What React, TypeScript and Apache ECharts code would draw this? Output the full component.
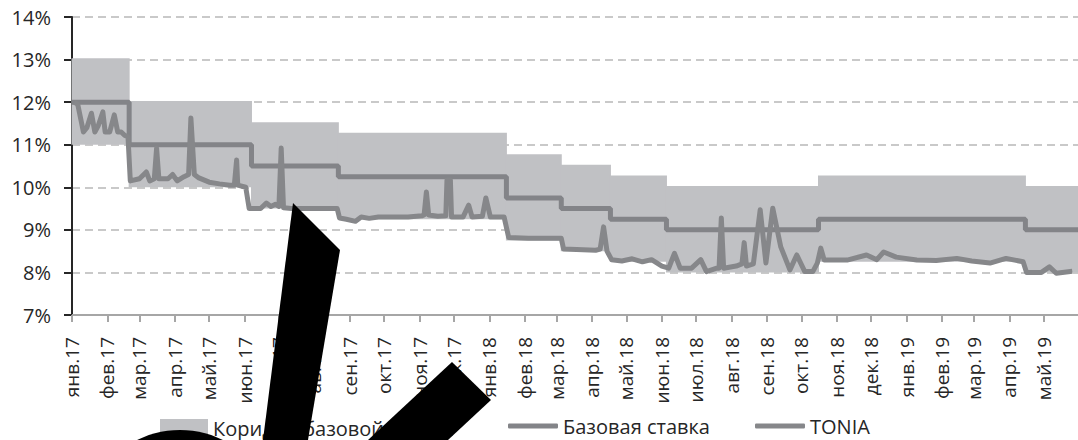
import React, { useEffect, useRef } from "react";
import * as echarts from "echarts";

const monthStarts = [
  "2017-01-01", "2017-02-01", "2017-03-01", "2017-04-01", "2017-05-01", "2017-06-01",
  "2017-07-01", "2017-08-01", "2017-09-01", "2017-10-01", "2017-11-01", "2017-12-01",
  "2018-01-01", "2018-02-01", "2018-03-01", "2018-04-01", "2018-05-01", "2018-06-01",
  "2018-07-01", "2018-08-01", "2018-09-01", "2018-10-01", "2018-11-01", "2018-12-01",
  "2019-01-01", "2019-02-01", "2019-03-01", "2019-04-01", "2019-05-01",
];
const monthLabels = [
  "янв.17", "фев.17", "мар.17", "апр.17", "май.17", "июн.17", "июл.17", "авг.17", "сен.17",
  "окт.17", "ноя.17", "дек.17", "янв.18", "фев.18", "мар.18", "апр.18", "май.18", "июн.18",
  "июл.18", "авг.18", "сен.18", "окт.18", "ноя.18", "дек.18", "янв.19", "фев.19", "мар.19",
  "апр.19", "май.19",
];
const yTicks = [7, 8, 9, 10, 11, 12, 13, 14];

const rateDates = [
  "2017-01-01", "2017-02-20", "2017-06-07", "2017-08-22", "2018-01-16", "2018-03-05",
  "2018-04-17", "2018-06-05", "2018-10-16", "2019-04-15", "2019-05-31",
];
const baseRate = [12, 11, 10.5, 10.25, 9.75, 9.5, 9.25, 9.0, 9.25, 9.0, 9.0];
const corridorLower = [11, 10, 9.5, 9.25, 8.75, 8.5, 8.25, 8.0, 8.25, 8.0, 8.0];
const corridorUpper = [13, 12, 11.5, 11.25, 10.75, 10.5, 10.25, 10.0, 10.25, 10.0, 10.0];

const toniaDates = [
  "2017-01-03", "2017-01-06", "2017-01-11", "2017-01-14", "2017-01-18", "2017-01-21",
  "2017-01-24", "2017-01-28", "2017-01-30", "2017-02-03", "2017-02-07", "2017-02-10",
  "2017-02-13", "2017-02-16", "2017-02-19", "2017-02-21", "2017-03-01", "2017-03-07",
  "2017-03-10", "2017-03-14", "2017-03-16", "2017-03-18", "2017-03-26", "2017-03-30",
  "2017-04-03", "2017-04-09", "2017-04-13", "2017-04-15", "2017-04-18", "2017-04-22",
  "2017-05-01", "2017-05-10", "2017-05-19", "2017-05-23", "2017-05-25", "2017-05-26",
  "2017-06-02", "2017-06-05", "2017-06-15", "2017-06-20", "2017-06-24", "2017-06-28",
  "2017-07-01", "2017-07-03", "2017-07-05", "2017-07-12", "2017-07-27", "2017-08-21",
  "2017-08-23", "2017-08-29", "2017-09-06", "2017-09-11", "2017-09-18", "2017-09-26",
  "2017-10-09", "2017-10-22", "2017-11-03", "2017-11-05", "2017-11-07", "2017-11-09",
  "2017-11-17", "2017-11-24", "2017-11-25", "2017-11-28", "2017-11-29", "2017-12-09",
  "2017-12-14", "2017-12-17", "2017-12-26", "2017-12-29", "2018-01-02", "2018-01-14",
  "2018-01-18", "2018-02-04", "2018-02-17", "2018-03-05", "2018-03-07", "2018-03-24",
  "2018-04-04", "2018-04-08", "2018-04-11", "2018-04-14", "2018-04-18", "2018-04-27",
  "2018-05-06", "2018-05-15", "2018-05-23", "2018-06-01", "2018-06-07", "2018-06-12",
  "2018-06-17", "2018-06-27", "2018-07-05", "2018-07-10", "2018-07-19", "2018-07-21",
  "2018-07-23", "2018-07-25", "2018-08-05", "2018-08-10", "2018-08-12", "2018-08-14",
  "2018-08-20", "2018-08-26", "2018-08-31", "2018-09-06", "2018-09-13", "2018-09-21",
  "2018-09-27", "2018-10-04", "2018-10-11", "2018-10-15", "2018-10-18", "2018-10-21",
  "2018-11-10", "2018-11-27", "2018-12-06", "2018-12-12", "2018-12-23", "2019-01-10",
  "2019-01-27", "2019-02-14", "2019-02-27", "2019-03-15", "2019-03-29", "2019-04-13",
  "2019-04-16", "2019-04-29", "2019-05-06", "2019-05-12", "2019-05-26",
];
const toniaValues = [
  12.0, 11.95, 11.3, 11.4, 11.74, 11.3,
  11.45, 11.77, 11.3, 11.3, 11.7, 11.3,
  11.3, 11.22, 11.18, 10.15, 10.2, 10.36,
  10.15, 10.2, 10.92, 10.2, 10.2, 10.3,
  10.15, 10.25, 10.3, 11.63, 10.3, 10.22,
  10.12, 10.08, 10.05, 10.05, 10.64, 10.05,
  10.0, 9.5, 9.5, 9.63, 9.55, 9.6,
  9.55, 10.92, 9.52, 9.5, 9.5, 9.5,
  9.28, 9.25, 9.2, 9.3, 9.27, 9.3,
  9.3, 9.3, 9.33, 9.35, 9.89, 9.35,
  9.32, 9.33, 10.17, 10.17, 9.3, 9.3,
  9.58, 9.3, 9.32, 9.75, 9.3, 9.3,
  8.82, 8.8, 8.8, 8.8, 8.55, 8.53,
  8.52, 8.55, 9.07, 8.5, 8.3, 8.27,
  8.32, 8.25, 8.3, 8.15, 8.1, 8.45,
  8.1, 8.1, 8.3, 8.02, 8.1, 8.1,
  9.28, 8.1, 8.15, 8.2, 8.7, 8.15,
  8.2, 9.47, 8.22, 9.51, 8.6, 8.06,
  8.41, 8.02, 8.02, 8.22, 8.57, 8.29,
  8.29, 8.41, 8.3, 8.48, 8.36, 8.29,
  8.28, 8.33, 8.27, 8.22, 8.33, 8.25,
  8.0, 8.0, 8.13, 7.98, 8.03,
];

const ts = (s: string) => {
  const [y, m, d] = s.split("-").map(Number);
  return Date.UTC(y, m - 1, d);
};

const FONT = "'Open Sans', 'Noto Sans', sans-serif";
const TEXT = "#262626";
const BAND = "#c0c1c4";

export default function App() {
  const ref = useRef<HTMLDivElement>(null);
  useEffect(() => {
    if (!ref.current) return;
    const chart = echarts.init(ref.current, undefined, { renderer: "svg" });
    const monthTs = monthStarts.map(ts);
    const labelFor = (v: number) => {
      const i = monthTs.indexOf(v);
      return i >= 0 ? monthLabels[i] : "";
    };
    const bandData = rateDates.slice(0, -1).map((d, i) => [
      ts(d),
      ts(rateDates[i + 1]),
      corridorLower[i],
      corridorUpper[i],
    ]);
    const baseData = rateDates.map((d, i) => [ts(d), baseRate[i]]);
    const toniaData = toniaDates.map((d, i) => [ts(d), toniaValues[i]]);

    const legendText = { fontFamily: FONT, fontSize: 20, color: TEXT };
    chart.setOption({
      animation: false,
      textStyle: { fontFamily: FONT },
      grid: { left: 72, top: 17, width: 1009, height: 298 },
      xAxis: {
        type: "value",
        min: ts("2017-01-01"),
        max: ts("2019-05-31"),
        axisLine: { lineStyle: { color: "#a6a6a6", width: 2 } },
        axisTick: {
          show: true,
          customValues: monthTs,
          length: 7,
          lineStyle: { color: "#a6a6a6", width: 2 },
        },
        axisLabel: {
          customValues: monthTs,
          rotate: 90,
          margin: 22,
          fontSize: 19,
          fontFamily: FONT,
          color: TEXT,
          hideOverlap: false,
          formatter: (v: number) => labelFor(v),
        },
        splitLine: { show: false },
      },
      yAxis: {
        type: "value",
        min: yTicks[0],
        max: yTicks[yTicks.length - 1],
        interval: 1,
        axisLine: { show: true, lineStyle: { color: TEXT, width: 2 } },
        axisTick: { show: true, length: 8, lineStyle: { color: TEXT, width: 2 } },
        axisLabel: {
          margin: 21,
          fontSize: 20,
          fontFamily: FONT,
          color: TEXT,
          formatter: (v: number) => v + "%",
        },
        splitLine: {
          show: true,
          lineStyle: { color: "#c9c9c9", width: 2, type: [8, 5] },
        },
      },
      legend: [
        {
          data: ["Коридор базовой ставки"],
          left: 160,
          top: 418,
          padding: 0,
          icon: "rect",
          itemWidth: 48,
          itemHeight: 18,
          textStyle: legendText,
        },
        {
          data: ["Базовая ставка"],
          left: 508,
          top: 416,
          padding: 0,
          icon: "roundRect",
          itemWidth: 50,
          itemHeight: 5,
          textStyle: legendText,
        },
        {
          data: ["TONIA"],
          left: 755,
          top: 416,
          padding: 0,
          icon: "roundRect",
          itemWidth: 50,
          itemHeight: 5,
          textStyle: legendText,
        },
      ],
      series: [
        {
          name: "Коридор базовой ставки",
          type: "custom",
          data: bandData,
          encode: { x: [0, 1], y: [2, 3] },
          itemStyle: { color: BAND },
          renderItem: (params: any, api: any) => {
            const p1 = api.coord([api.value(0), api.value(3)]);
            const p2 = api.coord([api.value(1), api.value(2)]);
            return {
              type: "rect",
              shape: {
                x: p1[0] - 0.5,
                y: p1[1] - 1.2,
                width: p2[0] - p1[0] + 1,
                height: p2[1] - p1[1] + 1.2,
              },
              style: { fill: BAND },
            };
          },
        },
        {
          name: "Базовая ставка",
          type: "line",
          step: "end",
          data: baseData,
          symbol: "none",
          color: "#838488",
          lineStyle: { color: "#838488", width: 5 },
        },
        {
          name: "TONIA",
          type: "line",
          data: toniaData,
          symbol: "none",
          color: "#86878a",
          lineStyle: { color: "#86878a", width: 5, join: "round" },
        },
      ],
      graphic: [
        {
          type: "polygon",
          z: 100,
          shape: { points: [[293, 203], [340, 250], [308, 440], [263, 440]] },
          style: { fill: "#000" },
        },
        {
          type: "polygon",
          z: 100,
          shape: { points: [[452, 362], [491, 400], [448, 440], [368, 440]] },
          style: { fill: "#000" },
        },
        {
          type: "circle",
          z: 100,
          shape: { cx: 180, cy: 527, r: 97 },
          style: { fill: "#000" },
        },
      ],
    });
    return () => chart.dispose();
  }, []);
  return (
    <div
      ref={ref}
      style={{ position: "absolute", left: 0, top: 0, width: 1078, height: 440 }}
    />
  );
}
